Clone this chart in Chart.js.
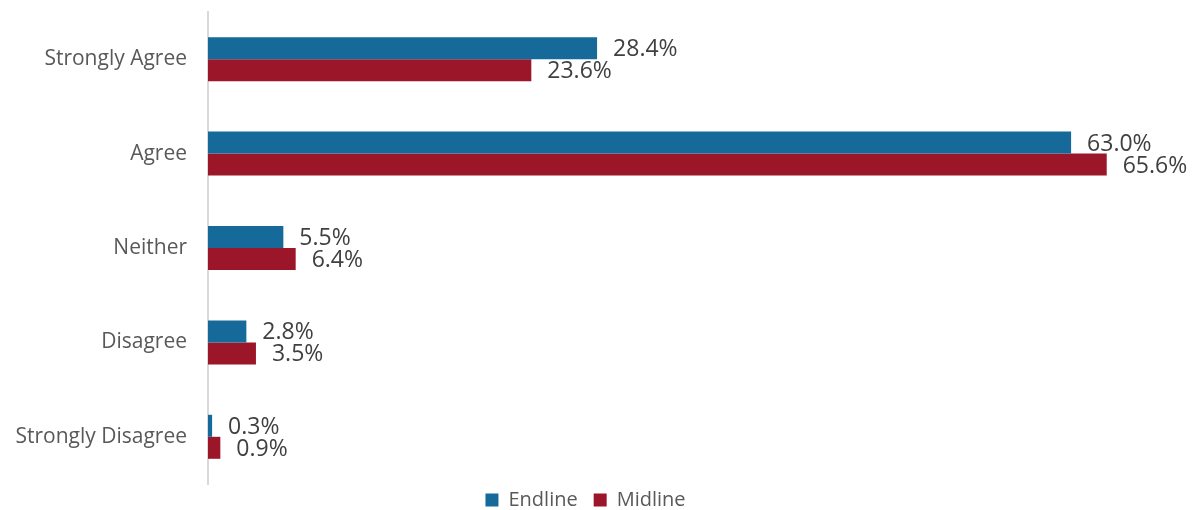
<!DOCTYPE html>
<html>
<head>
<meta charset="utf-8">
<script src="https://cdn.jsdelivr.net/npm/chart.js@4/dist/chart.umd.min.js"></script>
<style>
  html, body { margin: 0; padding: 0; background: #ffffff; }
  #wrap { width: 1199px; height: 510px; position: relative; }
</style>
</head>
<body>
<div id="wrap"><canvas id="chart"></canvas></div>
<script>
// Survey responses, percent of respondents
const categories = ['Strongly Agree', 'Agree', 'Neither', 'Disagree', 'Strongly Disagree'];
const endline = [28.4, 63.0, 5.5, 2.8, 0.3];
const midline = [23.6, 65.6, 6.4, 3.5, 0.9];
const seriesNames = ['Endline', 'Midline'];

const FONT = "'Open Sans', 'Liberation Sans', Arial, sans-serif";

// Writes each bar's value just past its end
const valueLabels = {
  id: 'valueLabels',
  afterDatasetsDraw(chart) {
    const ctx = chart.ctx;
    ctx.save();
    ctx.font = '23px ' + FONT;
    ctx.fillStyle = '#404040';
    ctx.textAlign = 'left';
    ctx.textBaseline = 'middle';
    chart.data.datasets.forEach((ds, di) => {
      const meta = chart.getDatasetMeta(di);
      meta.data.forEach((bar, i) => {
        ctx.fillText(ds.data[i].toFixed(1) + '%', bar.x + 16, bar.y + 1.5);
      });
    });
    ctx.restore();
  }
};

// Keeps the legend strip compact under the plot
const legendStrip = {
  id: 'legendStrip',
  beforeLayout(chart) {
    const lg = chart.legend;
    if (lg && !lg._compact) {
      const fit = lg.fit;
      lg.fit = function () { fit.call(this); this.height = 26; };
      lg._compact = true;
    }
  },
  afterLayout(chart) {
    const lg = chart.legend;
    if (lg) {
      lg.top -= 10;
      lg.height = 36;
      lg.bottom = lg.top + lg.height;
      lg.left += 2; lg.right += 2;
    }
  }
};

new Chart(document.getElementById('chart'), {
  type: 'bar',
  data: {
    labels: categories,
    datasets: [
      { label: seriesNames[0], data: endline, backgroundColor: '#156A9A' },
      { label: seriesNames[1], data: midline, backgroundColor: '#9B1628' }
    ]
  },
  options: {
    indexAxis: 'y',
    responsive: true,
    maintainAspectRatio: false,
    animation: false,
    datasets: { bar: { categoryPercentage: 0.466, barPercentage: 1.0 } },
    layout: { padding: { top: 12, right: 32, left: 0, bottom: 0 } },
    scales: {
      x: {
        display: false,
        min: 0,
        max: 70
      },
      y: {
        grid: { display: false, drawTicks: false },
        border: { display: true, color: '#d9d9d9', width: 2 },
        ticks: {
          color: '#595959',
          padding: 21,
          font: { family: FONT, size: 21 }
        },
        afterFit(scale) {
          scale.width = 208;
          scale.paddingTop = 0;
          scale.paddingBottom = 0;
        }
      }
    },
    plugins: {
      legend: {
        position: 'bottom',
        labels: {
          boxWidth: 13,
          boxHeight: 13,
          padding: 16,
          color: '#595959',
          font: { family: FONT, size: 20 }
        }
      },
      tooltip: { enabled: false }
    }
  },
  plugins: [valueLabels, legendStrip]
});
</script>
</body>
</html>
